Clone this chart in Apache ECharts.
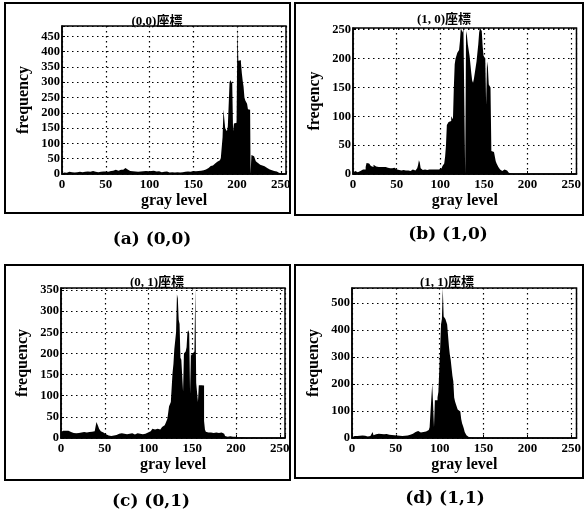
<!DOCTYPE html>
<html>
<head>
<meta charset="utf-8">
<script src="https://cdn.jsdelivr.net/npm/echarts@6/dist/echarts.min.js"></script>
<style>
  html, body { margin: 0; padding: 0; background: #fff; }
  #main { width: 584px; height: 511px; }
</style>
</head>
<body>
<div id="main"></div>
<script>
// histogram counts per gray level (index = gray level)
const freqA = [
  2,4,5,6,5,4,5,6,7,6,5,6,7,6,5,6,
  7,6,5,6,7,8,7,6,5,6,7,6,7,8,9,8,
  7,8,9,10,9,8,7,8,7,6,7,8,7,6,7,8,
  9,10,8,7,6,7,8,9,10,12,11,10,12,14,13,12,
  11,10,12,14,16,15,14,16,20,24,18,14,12,11,10,9,
  8,9,8,7,8,9,8,7,6,7,8,9,10,9,8,9,
  10,11,10,9,8,9,10,11,12,11,10,9,8,7,8,9,
  8,7,6,7,8,7,6,7,8,7,6,5,6,7,6,5,
  6,5,6,7,6,5,6,5,4,5,6,5,6,7,8,7,
  8,7,6,7,8,9,10,9,8,9,10,11,10,9,10,11,
  10,11,12,14,15,16,18,20,22,24,26,25,28,30,32,34,
  36,38,40,42,45,48,52,58,120,210,205,150,145,140,155,150,
  300,307,298,305,140,165,160,168,165,484,370,368,372,365,330,305,
  285,250,240,235,230,212,208,210,0,62,60,58,55,50,42,38,
  36,34,32,30,28,28,26,25,24,22,20,18,16,15,14,12,
  12,10,10,9,8,8,6,5,4,3,3,2,2,1,1,0
];
const freqB = [
  2,3,4,5,4,3,5,6,5,4,6,8,10,9,8,12,
  19,20,18,16,15,14,17,12,16,15,13,14,16,12,14,13,
  12,11,13,12,10,11,12,10,11,12,10,11,9,10,11,12,
  11,10,8,7,6,7,8,6,5,6,7,6,5,6,5,6,
  7,6,5,6,7,8,7,6,8,7,10,15,24,20,10,8,
  7,6,8,9,8,7,6,8,9,10,8,7,6,8,9,7,
  8,9,10,8,9,10,12,14,14,18,30,50,85,88,90,90,
  92,100,98,95,150,190,200,203,210,212,215,230,253,250,245,253,
  250,0,248,240,225,215,205,190,175,162,158,165,175,185,195,210,
  225,245,253,250,248,222,205,208,200,120,195,185,155,152,150,40,
  42,38,40,35,22,18,15,12,10,8,6,5,6,8,9,8,
  6,4,3,2,1,1,0,0,1,0,0,0,0,0,0,0
];
const freqC = [
  14,18,17,16,18,17,15,16,17,16,15,14,15,13,12,13,
  12,11,12,13,12,11,12,13,12,13,14,13,12,13,14,13,
  14,13,14,15,14,15,16,18,20,38,35,28,22,18,16,14,
  13,12,10,9,8,7,6,5,6,5,6,7,6,7,8,7,
  8,9,10,9,10,11,10,9,10,11,10,9,10,11,10,9,
  10,11,10,9,8,9,10,11,10,9,10,9,8,9,10,11,
  10,11,12,13,14,15,16,18,20,22,24,20,18,20,22,24,
  22,20,22,24,26,28,30,32,35,38,45,60,75,80,85,120,
  155,175,210,230,250,340,330,280,270,190,185,185,110,200,198,205,
  215,250,255,248,105,200,195,200,198,205,355,130,128,85,125,128,
  125,122,126,124,40,20,15,14,13,12,14,13,12,11,12,13,
  12,13,14,13,12,11,12,13,12,11,10,8,5,4,3,4,
  3,4,3,2,3,2,2,3,2,2,1,2,1,1,2,1,
  1,1,1,0,1,1,0,1,1,0,1,0,1,1,0,1
];
const freqD = [
  3,5,6,7,8,8,7,8,9,8,7,8,9,8,7,8,
  8,7,6,7,8,7,8,9,22,10,12,14,15,14,16,15,
  14,15,16,15,14,13,14,15,14,13,12,13,12,11,12,11,
  10,11,10,9,10,9,8,9,8,7,8,9,8,9,10,9,
  10,11,12,13,14,16,18,20,22,24,25,26,24,22,20,22,
  24,22,20,22,24,26,28,30,35,40,45,150,200,195,40,140,
  145,140,150,170,250,330,420,440,555,450,445,440,430,420,380,340,
  310,290,260,230,210,150,135,125,120,105,100,98,95,70,55,45,
  35,22,15,10,6,3,2,1,1,0,1,0,0,1,0,0
];

const panelTitles = ['(0,0)座標', '(1, 0)座標', '(0, 1)座標', '(1, 1)座標'];
const captions = ['(a) (0,0)', '(b) (1,0)', '(c) (0,1)', '(d) (1,1)'];
const yNames = ['frequency', 'freqency', 'frequency', 'frequency'];
const xName = 'gray level';
const yMax = [484, 253, 355, 555];
const yStep = [50, 50, 50, 100];

const hists = [freqA, freqB, freqC, freqD];

// layout of each subplot (pixels)
const grids = [
  { left: 62, top: 26, width: 224, height: 148 },
  { left: 353, top: 28, width: 224, height: 146 },
  { left: 61, top: 288, width: 224, height: 150 },
  { left: 352, top: 288, width: 225, height: 150 }
];
const titlePos = [[152, 10], [439, 8], [152, 271], [442, 271]];
const capPos = [[152, 240], [448, 235], [151, 502], [445, 499]];
const frames = [[5, 3, 285, 210], [295, 3, 288, 212], [5, 265, 285, 215], [295, 265, 288, 213]];

const serif = '"Liberation Serif", "Times New Roman", serif';
const dotted = { color: '#000', width: 1.2, type: [1.5, 3.5] };

const chart = echarts.init(document.getElementById('main'));

const option = {
  animation: false,
  backgroundColor: '#fff',
  grid: grids.map(g => Object.assign({ show: true, borderColor: '#000', borderWidth: 1.5 }, g)),
  title: panelTitles.map((t, i) => ({
    text: t,
    left: titlePos[i][0],
    top: titlePos[i][1],
    textAlign: 'center',
    textStyle: { fontFamily: serif + ', "Noto Sans CJK JP"', fontSize: 13, fontWeight: 'bold', color: '#000' }
  })),
  xAxis: grids.map((g, i) => ({
    type: 'value',
    gridIndex: i,
    min: 0,
    max: 256,
    interval: 50,
    name: xName,
    nameLocation: 'middle',
    nameGap: 19,
    nameTextStyle: { fontFamily: serif, fontSize: 16, fontWeight: 'bold', color: '#000' },
    axisLine: { lineStyle: { color: '#000', width: 1.5 } },
    axisTick: { inside: true, length: 3, lineStyle: { color: '#000' } },
    axisLabel: {
      margin: 4,
      fontFamily: serif, fontSize: 13, fontWeight: 'bold', color: '#000',
      formatter: v => (v % 50 === 0 ? String(v) : '')
    },
    splitLine: { show: true, lineStyle: dotted }
  })),
  yAxis: grids.map((g, i) => ({
    type: 'value',
    gridIndex: i,
    min: 0,
    max: yMax[i],
    interval: yStep[i],
    name: yNames[i],
    nameLocation: 'middle',
    nameRotate: 90,
    nameGap: 30,
    nameTextStyle: { fontFamily: serif, fontSize: 16, fontWeight: 'bold', color: '#000' },
    axisLine: { show: true, lineStyle: { color: '#000', width: 1.5 } },
    axisTick: { show: true, inside: true, length: 3, lineStyle: { color: '#000' } },
    axisLabel: {
      margin: 2,
      fontFamily: serif, fontSize: 12.5, fontWeight: 'bold', color: '#000',
      formatter: v => (v % yStep[i] === 0 ? String(v) : '')
    },
    splitLine: { show: true, lineStyle: dotted }
  })),
  series: hists.map((arr, i) => ({
    type: 'line',
    xAxisIndex: i,
    yAxisIndex: i,
    step: 'middle',
    symbol: 'none',
    lineStyle: { width: 0 },
    areaStyle: { color: '#000', opacity: 1 },
    data: arr.map((v, k) => [k, v])
  })),
  graphic: frames.map(f => ({
    type: 'rect',
    shape: { x: f[0], y: f[1], width: f[2], height: f[3] },
    style: { fill: 'none', stroke: '#000', lineWidth: 2 },
    silent: true
  })).concat(captions.map((c, i) => ({
    type: 'text',
    x: capPos[i][0],
    y: capPos[i][1],
    style: {
      text: c,
      fill: '#000',
      font: 'bold 17px "DejaVu Serif", serif',
      textAlign: 'center',
      textVerticalAlign: 'middle'
    }
  })))
};

chart.setOption(option);
</script>
</body>
</html>
